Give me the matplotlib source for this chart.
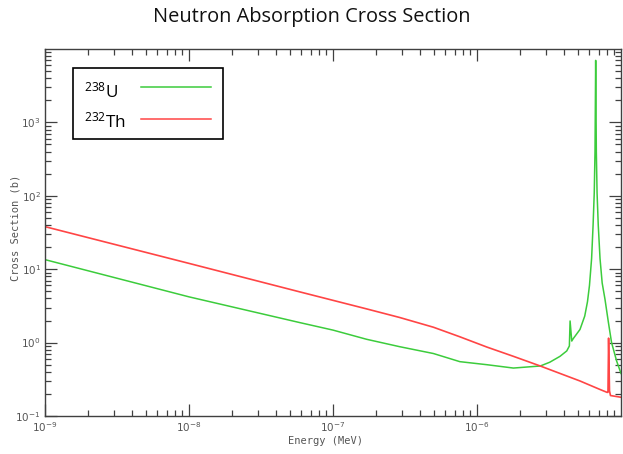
import matplotlib
matplotlib.use("Agg")
import matplotlib.pyplot as plt
from matplotlib.ticker import FixedLocator, NullFormatter, FixedFormatter
from matplotlib.lines import Line2D
from matplotlib.patches import Rectangle

plt.rcParams["mathtext.default"] = "regular"

title = "Neutron Absorption Cross Section"
xlabel = "Energy (MeV)"
ylabel = "Cross Section (b)"
series_names = ["$^{238}$U", "$^{232}$Th"]

# U-238 (green)
energy_u = [1e-9, 1e-8, 5.9e-8, 1e-7, 1.71e-7, 2.9e-7, 4.98e-7, 7.6e-7, 1.17e-6,
            1.79e-6, 2.75e-6, 3.2e-6, 3.77e-6, 4.2e-6, 4.38e-6, 4.43e-6, 4.55e-6,
            4.67e-6, 5.19e-6, 5.6e-6, 5.85e-6, 6.04e-6, 6.25e-6, 6.4e-6, 6.52e-6,
            6.6e-6, 6.67e-6, 6.74e-6, 6.82e-6, 6.95e-6, 7.15e-6, 7.4e-6, 7.74e-6,
            8.17e-6, 8.6e-6, 9.33e-6, 1e-5]
sigma_u = [13.5, 4.2, 1.87, 1.48, 1.11, 0.88, 0.71, 0.55, 0.50,
           0.45, 0.48, 0.54, 0.65, 0.77, 0.90, 1.97, 1.05,
           1.14, 1.51, 2.3, 3.6, 6.0, 14, 40, 110,
           400, 7000, 400, 110, 40, 14, 6.5, 3.9,
           1.9, 1.0, 0.56, 0.38]

# Th-232 (red)
energy_th = [1e-9, 1e-8, 5.9e-8, 1.71e-7, 2.9e-7, 4.98e-7, 7.6e-7, 1.17e-6, 1.79e-6,
             2.75e-6, 3.77e-6, 5.19e-6, 7.14e-6, 8.0e-6, 8.12e-6, 8.2e-6, 8.32e-6,
             8.45e-6, 1e-5]
sigma_th = [38, 12.0, 4.9, 2.88, 2.2, 1.62, 1.2, 0.87, 0.65,
            0.48, 0.38, 0.30, 0.23, 0.21, 0.21, 1.15, 0.22,
            0.19, 0.18]

x_major = [1e-9, 1e-8, 1e-7, 1e-6]
x_major_labels = ["$10^{-9}$", "$10^{-8}$", "$10^{-7}$", "$10^{-6}$"]
y_major = [1e-1, 1e0, 1e1, 1e2, 1e3]
y_major_labels = ["$10^{-1}$", "$10^{0}$", "$10^{1}$", "$10^{2}$", "$10^{3}$"]

green = "#3ccc3c"
red = "#ff4545"
grey = "#555555"

fig = plt.figure(figsize=(6.23, 4.54), dpi=100)
W, H = 623, 454
ax = fig.add_axes([45 / W, 38 / H, 576 / W, 367 / H])

ax.plot(energy_u, sigma_u, color=green, lw=1.1)
ax.plot(energy_th, sigma_th, color=red, lw=1.2)

ax.set_xscale("log")
ax.set_yscale("log")
ax.set_xlim(1e-9, 1e-5)
ax.set_ylim(1e-1, 1e4)

xminor = [k * 10.0 ** n for n in range(-9, -5) for k in range(2, 10)]
yminor = [k * 10.0 ** n for n in range(-1, 4) for k in range(2, 10)]
ax.xaxis.set_major_locator(FixedLocator(x_major))
ax.xaxis.set_major_formatter(FixedFormatter(x_major_labels))
ax.xaxis.set_minor_locator(FixedLocator(xminor))
ax.xaxis.set_minor_formatter(NullFormatter())
ax.yaxis.set_major_locator(FixedLocator(y_major))
ax.yaxis.set_major_formatter(FixedFormatter(y_major_labels))
ax.yaxis.set_minor_locator(FixedLocator(yminor))
ax.yaxis.set_minor_formatter(NullFormatter())

ax.tick_params(which="both", direction="in", top=True, right=True,
               color="#404040", width=0.9, labelsize=7.5, labelcolor=grey)
ax.tick_params(which="major", length=8.5, pad=3)
ax.tick_params(which="minor", length=4.3)
for s in ax.spines.values():
    s.set_color("#404040")
    s.set_linewidth(1.0)

ax.set_xlabel(xlabel, fontsize=7.5, color=grey, family="DejaVu Sans Mono")
ax.set_ylabel(ylabel, fontsize=7.5, color=grey, family="DejaVu Sans Mono")
ax.xaxis.set_label_coords((325 - 45) / 576, (416 - 436) / 367)
ax.yaxis.set_label_coords((21 - 45) / 576, (416 - 228) / 367)

# legend box
def axx(px):
    return (px - 45) / 576

def axy(py):
    return (416 - py) / 367

ax.add_patch(Rectangle((axx(73), axy(139)), axx(223) - axx(73), axy(68) - axy(139),
                       transform=ax.transAxes, fill=True, facecolor="white",
                       edgecolor="black", lw=1.2, zorder=5))
for name, col, ty, ly in [(series_names[0], green, 97.5, 86.7),
                          (series_names[1], red, 127.5, 118.7)]:
    ax.text(axx(84), axy(ty), name, transform=ax.transAxes, fontsize=12.3,
            family="Open Sans", va="baseline", ha="left", zorder=6)
    ax.add_line(Line2D([axx(141), axx(211)], [axy(ly), axy(ly)], color=col,
                       lw=1.1, transform=ax.transAxes, zorder=6))

fig.text(0.5, 1 - 17 / H, title, ha="center", va="center", fontsize=14.4,
         family="Open Sans", color="#111111")

fig.savefig("out.png", dpi=100, facecolor="white")
